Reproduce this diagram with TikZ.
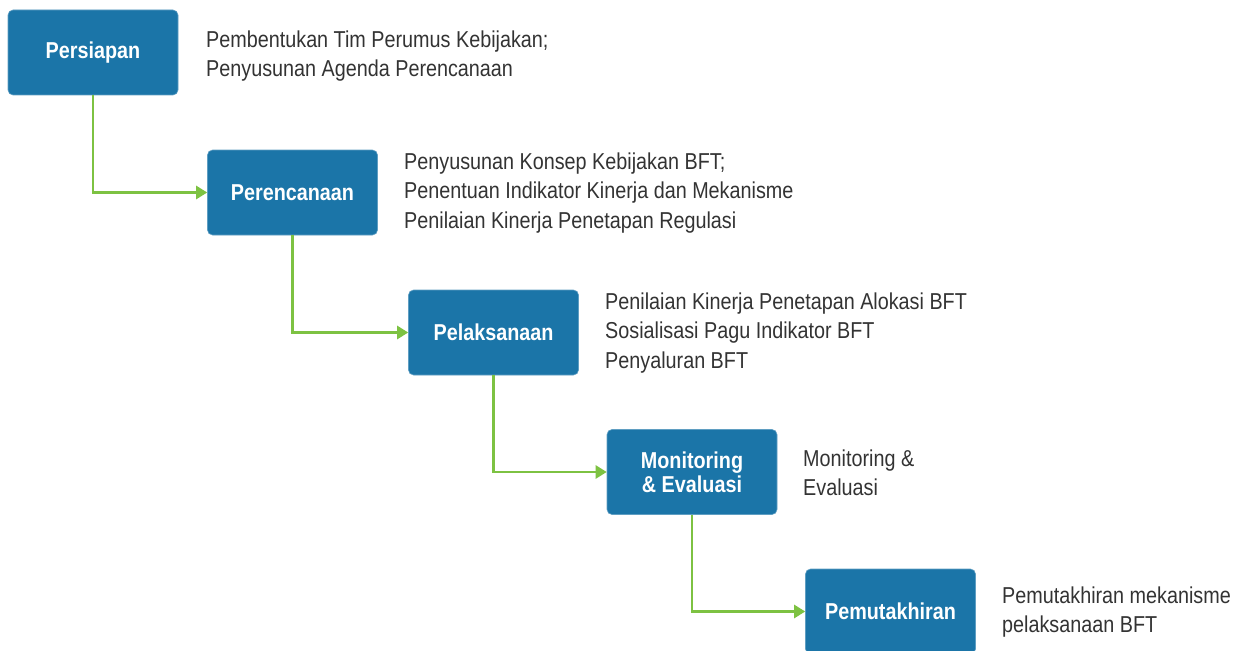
\documentclass[tikz,border=0pt]{standalone}
\usepackage{fontspec}
\setmainfont{Liberation Sans}[FakeStretch=0.86]
\usetikzlibrary{arrows.meta}
\definecolor{boxblue}{HTML}{1B75A8}
\definecolor{conngreen}{HTML}{7DC242}
\definecolor{txtgray}{HTML}{333333}
\tikzset{
  stage/.style={fill=boxblue, draw=boxblue!70!white, line width=0.6pt, rounded corners=5pt,
    minimum width=170pt, minimum height=85pt, text=white, align=center,
    font=\fontsize{23}{24}\selectfont\bfseries, inner sep=0pt},
  desc/.style={anchor=west, align=left, text=txtgray, inner sep=0pt,
    font=\fontsize{23}{29.5}\selectfont},
  conn/.style={draw=conngreen, line width=2.5pt, -{Triangle[length=11pt,width=13pt]}}
}
\begin{document}
\begin{tikzpicture}[x=1pt,y=-1pt]
\useasboundingbox (0,0) rectangle (1241,650);
\node[stage] (b1) at (93,52.5) {Persiapan};
\node[stage] (b2) at (292.5,192.5) {Perencanaan};
\node[stage] (b3) at (493.5,332.5) {Pelaksanaan};
\node[stage] (b4) at (692,472) {Monitoring\\\& Evaluasi};
\node[stage] (b5) at (890.5,611.5) {Pemutakhiran};

\node[desc] (d1) at (206,56) {Pembentukan Tim Perumus Kebijakan;\\Penyusunan Agenda Perencanaan};
\node[desc] (d2) at (404,193) {Penyusunan Konsep Kebijakan BFT;\\Penentuan Indikator Kinerja dan Mekanisme\\Penilaian Kinerja Penetapan Regulasi};
\node[desc] (d3) at (605,333) {Penilaian Kinerja Penetapan Alokasi BFT\\Sosialisasi Pagu Indikator BFT\\Penyaluran BFT};
\node[desc] (d4) at (803,473) {Monitoring \&\\Evaluasi};
\node[desc] (d5) at (1002,612) {Pemutakhiran mekanisme\\pelaksanaan BFT};

\draw[conn] (b1.south) |- (b2.west);
\draw[conn] (b2.south) |- (b3.west);
\draw[conn] (b3.south) |- (b4.west);
\draw[conn] (b4.south) |- (b5.west);
\end{tikzpicture}
\end{document}
